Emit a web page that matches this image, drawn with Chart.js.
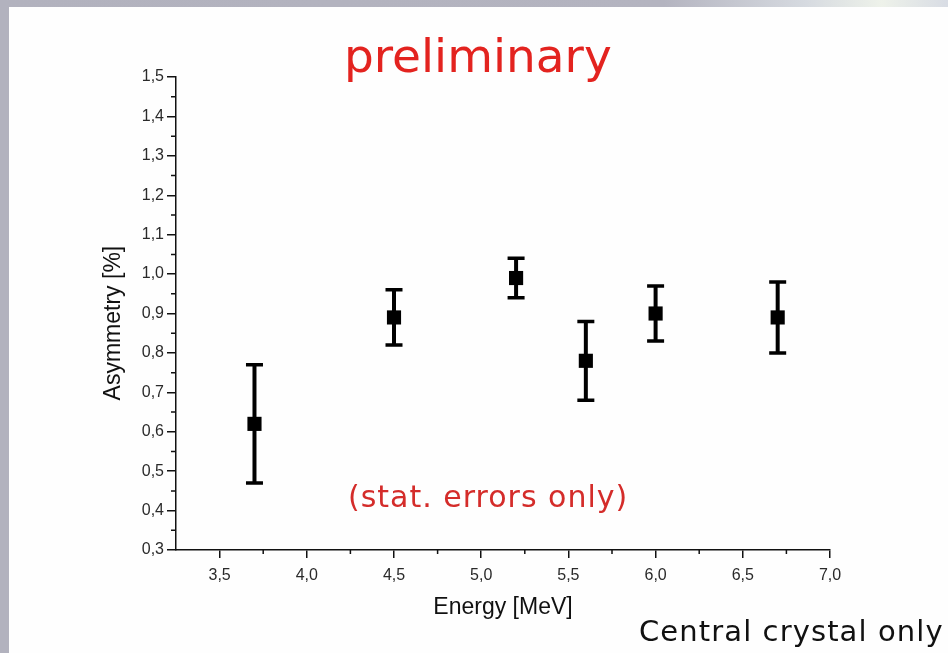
<!DOCTYPE html>
<html>
<head>
<meta charset="utf-8">
<script src="https://cdn.jsdelivr.net/npm/chart.js@4.4.1/dist/chart.umd.min.js"></script>
<style>
  html, body { margin: 0; padding: 0; }
  body { width: 948px; height: 653px; background: #b2b2be; position: relative; overflow: hidden; }
  #topstrip { position: absolute; left: 0; top: 0; width: 948px; height: 7px;
    background: linear-gradient(90deg, #b2b2be 0%, #b4b4c0 70%, #d6dae0 85%, #eef2ea 93%, #d8dce4 100%); }
  #panel { position: absolute; left: 9px; top: 7px; width: 939px; height: 646px; background: #fefefe; }
  #chart { position: absolute; left: 0; top: 0; }
  .note { position: absolute; font-family: "DejaVu Sans", sans-serif; line-height: 1; white-space: nowrap; }
  #prelim { left: 344px; top: 32px; font-size: 47px; color: #e3231f; }
  #stat { left: 348px; top: 482px; font-size: 30px; letter-spacing: 1px; color: #d42c2a; }
  #central { left: 639px; top: 617px; font-size: 29px; letter-spacing: 1.1px; color: #111; }
</style>
</head>
<body>
<div id="topstrip"></div>
<div id="panel"></div>
<canvas id="chart" width="948" height="653"></canvas>
<div class="note" id="prelim">preliminary</div>
<div class="note" id="stat">(stat. errors only)</div>
<div class="note" id="central">Central crystal only</div>
<script>
// Energy points and measured asymmetry with statistical errors
var energy = [3.7, 4.5, 5.2, 5.6, 6.0, 6.7];
var asymmetry = [0.62, 0.89, 0.99, 0.78, 0.90, 0.89];
var statError = [0.15, 0.07, 0.05, 0.10, 0.07, 0.09];

// Axis ticks
var xTicks = [3.5, 4.0, 4.5, 5.0, 5.5, 6.0, 6.5, 7.0];
var yTicks = [0.3, 0.4, 0.5, 0.6, 0.7, 0.8, 0.9, 1.0, 1.1, 1.2, 1.3, 1.4, 1.5];

function comma(v) { return Number(v).toFixed(1).replace('.', ','); }

// error bars + minor ticks, drawn through the chart scales
var errorBars = {
  id: 'errorBars',
  afterDatasetsDraw: function(chart) {
    var ctx = chart.ctx, xs = chart.scales.x, ys = chart.scales.y;
    ctx.save();
    ctx.strokeStyle = '#000';
    for (var i = 0; i < energy.length; i++) {
      var px = xs.getPixelForValue(energy[i]);
      var top = ys.getPixelForValue(asymmetry[i] + statError[i]);
      var bot = ys.getPixelForValue(asymmetry[i] - statError[i]);
      ctx.lineWidth = 4;
      ctx.beginPath(); ctx.moveTo(px, top); ctx.lineTo(px, bot); ctx.stroke();
      ctx.lineWidth = 3.5;
      ctx.beginPath();
      ctx.moveTo(px - 8.5, top); ctx.lineTo(px + 8.5, top);
      ctx.moveTo(px - 8.5, bot); ctx.lineTo(px + 8.5, bot);
      ctx.stroke();
    }
    // minor ticks halfway between majors
    ctx.lineWidth = 1.5;
    ctx.strokeStyle = '#111';
    ctx.beginPath();
    var base = chart.chartArea.bottom, left = chart.chartArea.left;
    for (var j = 0; j < xTicks.length - 1; j++) {
      var mx = xs.getPixelForValue((xTicks[j] + xTicks[j + 1]) / 2);
      ctx.moveTo(mx, base); ctx.lineTo(mx, base + 4);
    }
    for (var k = 0; k < yTicks.length - 1; k++) {
      var my = ys.getPixelForValue((yTicks[k] + yTicks[k + 1]) / 2);
      ctx.moveTo(left, my); ctx.lineTo(left - 5, my);
    }
    ctx.stroke();
    ctx.restore();
  }
};

var ctx = document.getElementById('chart').getContext('2d');
var chart = new Chart(ctx, {
  type: 'scatter',
  data: {
    datasets: [{
      label: 'Asymmetry',
      data: energy.map(function(e, i) { return { x: e, y: asymmetry[i] }; }),
      pointStyle: 'rect',
      pointRadius: 10,
      pointHoverRadius: 10,
      backgroundColor: '#000',
      borderWidth: 0
    }]
  },
  options: {
    responsive: false,
    animation: false,
    events: [],
    layout: { padding: { left: 99, top: 77, right: 118, bottom: 0 } },
    plugins: { legend: { display: false }, tooltip: { enabled: false } },
    scales: {
      x: {
        type: 'linear',
        min: 3.25,
        max: 7.0,
        afterBuildTicks: function(scale) { scale.ticks = xTicks.map(function(v) { return { value: v }; }); },
        afterFit: function(scale) { scale.height = 103; },
        grid: { drawOnChartArea: false, color: '#111', lineWidth: 1.5, tickLength: 8 },
        border: { display: true, color: '#111', width: 1.5 },
        ticks: {
          callback: function(v) { return comma(v); },
          font: { family: 'Liberation Sans, Arial, sans-serif', size: 16 },
          color: '#2a2a2a',
          padding: 8,
          maxRotation: 0,
          autoSkip: false
        },
        title: {
          display: true,
          text: 'Energy [MeV]',
          font: { family: 'Liberation Sans, Arial, sans-serif', size: 23 },
          color: '#111',
          padding: { top: 4, bottom: 32 }
        }
      },
      y: {
        type: 'linear',
        min: 0.3,
        max: 1.5,
        afterBuildTicks: function(scale) { scale.ticks = yTicks.map(function(v) { return { value: v }; }); },
        afterFit: function(scale) { scale.width = 77; },
        grid: { drawOnChartArea: false, color: '#111', lineWidth: 1.5, tickLength: 9 },
        border: { display: true, color: '#111', width: 1.5 },
        ticks: {
          callback: function(v) { return comma(v); },
          font: { family: 'Liberation Sans, Arial, sans-serif', size: 16 },
          color: '#2a2a2a',
          padding: 3,
          autoSkip: false
        },
        title: {
          display: true,
          text: 'Asymmetry [%]   ',
          font: { family: 'Liberation Sans, Arial, sans-serif', size: 23 },
          color: '#111',
          padding: { top: 1, bottom: 4 }
        }
      }
    }
  },
  plugins: [errorBars]
});
</script>
</body>
</html>
